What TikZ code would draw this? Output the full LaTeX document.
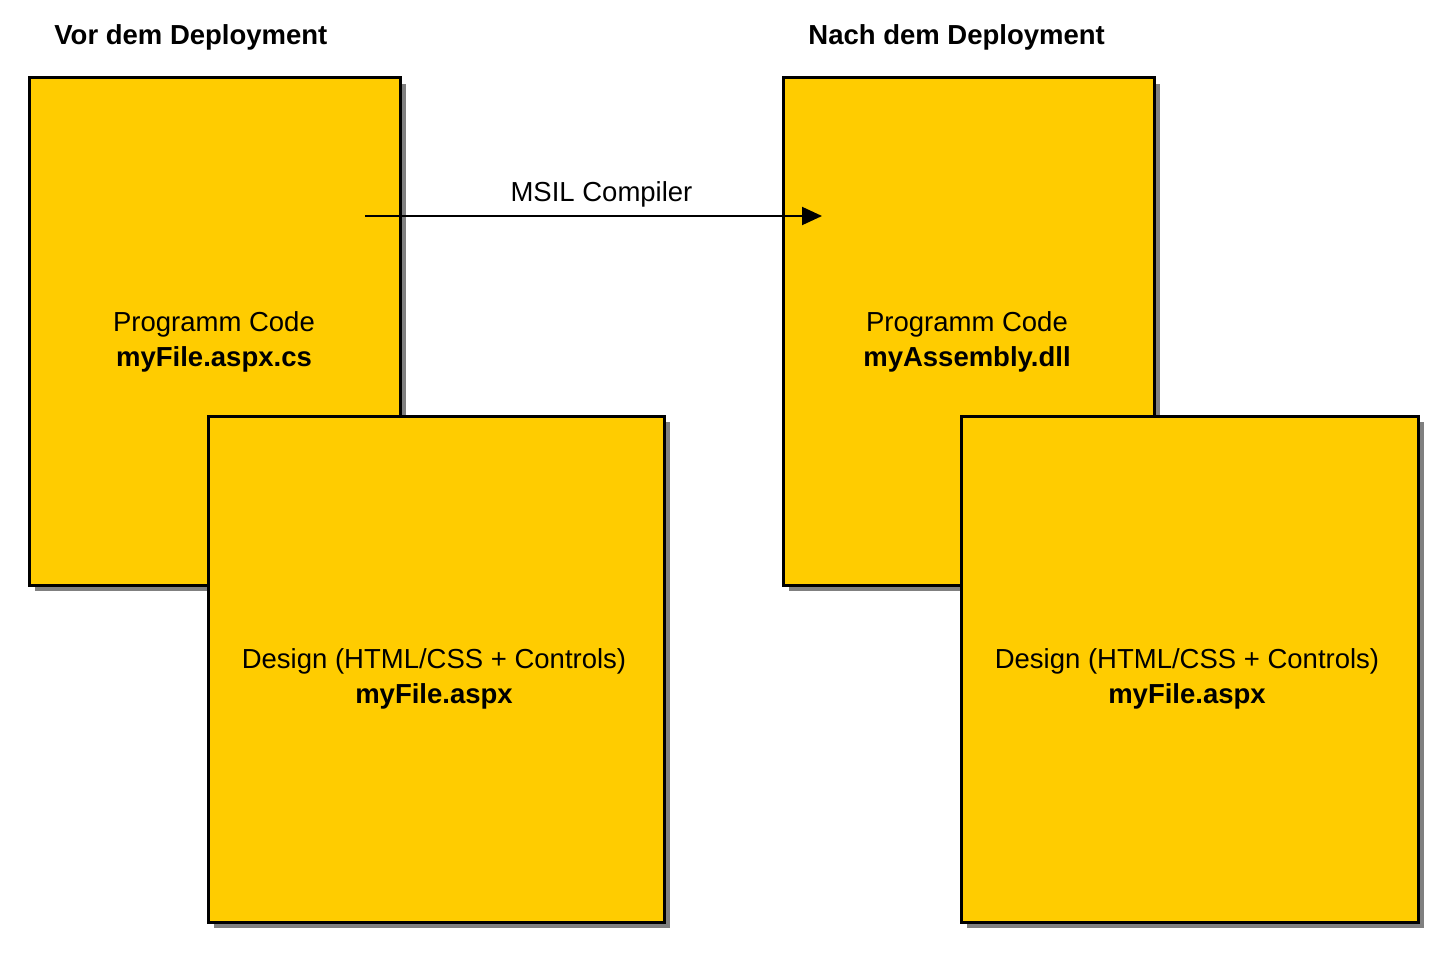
\documentclass[tikz,border=0pt]{standalone}
\usepackage{fontspec}
\setmainfont{Liberation Sans}
\usetikzlibrary{shadows,arrows.meta}
\definecolor{boxyellow}{HTML}{FFCC00}
\definecolor{shadowgray}{HTML}{808080}
\begin{document}
\begin{tikzpicture}[x=0.5pt,y=-0.5pt,
  docbox/.style={draw=black, line width=1.5pt, fill=boxyellow, rectangle, inner sep=0pt,
    drop shadow={shadow xshift=3pt, shadow yshift=-3pt, fill=shadowgray, opacity=1}},
  boxtext/.style={align=center, font=\fontsize{13.75}{17.5}\selectfont, inner sep=0pt},
  titletext/.style={anchor=west, font=\fontsize{13.75}{17.5}\selectfont\bfseries, inner sep=0pt},
  flow/.style={draw=black, line width=1pt, -{Triangle[length=10pt,width=9pt]}}
]
\useasboundingbox (0,0) rectangle (1456,957);
% titles
\node[titletext] (tleft) at (54,37) {Vor dem Deployment};
\node[titletext] (tright) at (808,37) {Nach dem Deployment};
% left side
\node[docbox, minimum width=185.5pt, minimum height=253.5pt] (lback) at (214.5,331.5) {};
\node[docbox, minimum width=228pt, minimum height=253pt] (lfront) at (436,669) {};
% right side
\node[docbox, minimum width=185.5pt, minimum height=253.5pt] (rback) at (968.5,331.5) {};
\node[docbox, minimum width=228.5pt, minimum height=253pt] (rfront) at (1189.5,669) {};
% texts
\node[boxtext] (lcode) at (214,342) {Programm Code\\\textbf{myFile.aspx.cs}};
\node[boxtext] (ldesign) at (434,679) {Design (HTML/CSS + Controls)\\\textbf{myFile.aspx}};
\node[boxtext] (rcode) at (967,342) {Programm Code\\\textbf{myAssembly.dll}};
\node[boxtext] (rdesign) at (1187,679) {Design (HTML/CSS + Controls)\\\textbf{myFile.aspx}};
% arrow
\coordinate (astart) at (365,216);
\coordinate (aend) at (822,216);
\draw[flow] (astart) -- node[above=4pt, xshift=4pt, boxtext] (alabel) {MSIL Compiler} (aend);
\end{tikzpicture}
\end{document}
